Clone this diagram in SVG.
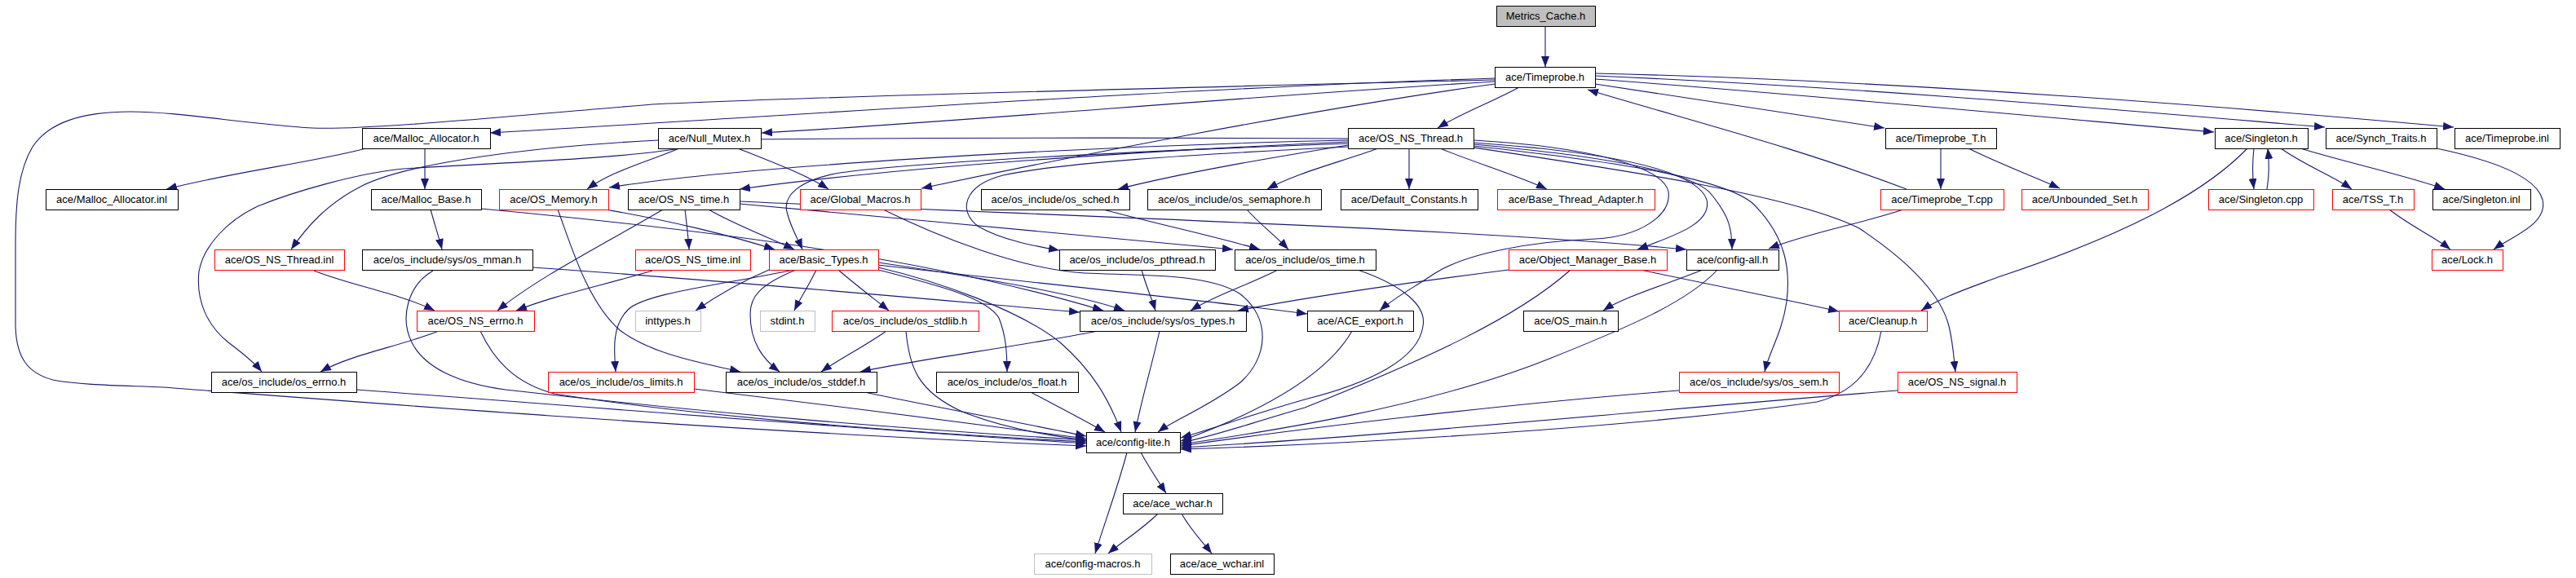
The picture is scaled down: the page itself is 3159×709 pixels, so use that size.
<svg xmlns="http://www.w3.org/2000/svg" width="3159" height="709" viewBox="0 0 3159 709">
<style>
.n rect{fill:#fff;stroke:#000;stroke-width:1}
.n.r rect{stroke:#f00}
.n.g rect{stroke:#bfbfbf}
.n.s rect{fill:#bfbfbf}
text{font-family:"Liberation Sans",Arial,sans-serif;font-size:13px;text-anchor:middle;fill:#000}
#edges path{fill:none;stroke:#191970;stroke-width:1.1;marker-end:url(#a)}
</style>
<defs>
<marker id="a" viewBox="0 0 13 10" markerWidth="13" markerHeight="10" refX="13" refY="5" orient="auto" markerUnits="userSpaceOnUse"><path d="M0,0L13,5L0,10z" fill="#191970"/></marker>
</defs>
<rect width="3159" height="709" fill="#fff"/>
<g id="edges">
<path d="M1895,32 L1895,82"/>
<path d="M1833,96 C1450,108 1000,140 601,163"/>
<path d="M1833,100 C1500,120 1200,148 934,163"/>
<path d="M1833,98 C1500,106 1000,118 800,128 C650,140 450,160 383,157 C300,152 220,137 160,137 C100,137 60,150 40,180 C22,210 19,250 19,300 L19,400 C20,440 35,458 65,466 C100,473 160,473 200,475 C400,490 900,530 1332,547"/>
<path d="M1863,107 C1830,125 1790,140 1763,157"/>
<path d="M1956,103 C2100,125 2220,143 2311,157"/>
<path d="M1956,97 C2200,115 2500,143 2715,162"/>
<path d="M1956,93 C2300,108 2600,135 2851,156"/>
<path d="M1956,90 C2300,98 2700,128 3009,156"/>
<path d="M1833,103 C1600,135 1300,195 1130,231"/>
<path d="M2380,182 L2380,232"/>
<path d="M2414,182 C2450,200 2490,215 2526,231"/>
<path d="M2338,232 C2200,180 2080,150 1947,110"/>
<path d="M2334,257 C2280,275 2220,285 2169,305"/>
<path d="M2764,182 C2762,200 2762,215 2764,232"/>
<path d="M2780,232 C2783,215 2783,200 2781,182"/>
<path d="M2797,182 C2830,205 2860,215 2884,232"/>
<path d="M2821,182 C2880,200 2950,215 2998,232"/>
<path d="M2756,182 C2700,240 2600,290 2450,340 C2410,355 2380,365 2356,381"/>
<path d="M2988,182 C3050,195 3110,215 3118,245 C3125,275 3080,290 3058,306"/>
<path d="M2930,257 C2960,280 2985,290 3005,306"/>
<path d="M449,182 C380,200 290,210 204,232"/>
<path d="M521,182 L521,232"/>
<path d="M528,257 C533,275 538,290 542,306"/>
<path d="M590,256 C900,285 1150,320 1353,381"/>
<path d="M742,257 C820,270 900,290 950,306"/>
<path d="M653,328 C900,345 1150,368 1324,383"/>
<path d="M531,332 C500,350 490,390 505,420 C520,450 560,470 620,478 C900,510 1100,525 1332,540"/>
<path d="M833,182 C790,200 750,210 720,232"/>
<path d="M905,182 C950,200 990,215 1016,232"/>
<path d="M833,182 C760,195 600,200 495,207 C440,212 360,235 316,253 C280,270 250,300 244,333 C240,370 255,400 280,420 C300,435 312,445 321,456"/>
<path d="M1653,170 C1300,168 1000,170 807,172 C650,180 500,200 444,228 C400,250 375,280 357,306"/>
<path d="M1653,172 C1300,180 900,205 747,230"/>
<path d="M1653,174 C1400,185 1100,205 907,232"/>
<path d="M1653,176 C1400,185 1100,200 1024,213 C980,222 960,240 965,260 C970,280 978,292 984,306"/>
<path d="M1653,178 C1550,195 1450,212 1371,232"/>
<path d="M1690,182 C1640,200 1590,212 1554,232"/>
<path d="M1728,182 L1728,232"/>
<path d="M1766,182 C1810,200 1860,215 1897,232"/>
<path d="M1653,180 C1450,190 1300,200 1230,215 C1180,228 1175,260 1200,278 C1230,295 1270,302 1299,307"/>
<path d="M1807,175 C1950,185 2080,205 2093,245 C2100,275 2050,290 2008,306"/>
<path d="M1807,172 C1950,180 2040,205 2046,235 C2050,265 2010,290 1957,293 C1880,296 1800,310 1760,335 C1730,355 1710,365 1692,381"/>
<path d="M1807,177 C1950,190 2080,210 2100,240 C2120,265 2124,280 2124,306"/>
<path d="M1807,179 C1950,195 2110,215 2150,250 C2190,290 2196,330 2191,370 C2185,410 2170,430 2164,456"/>
<path d="M1807,181 C2000,210 2200,240 2280,280 C2340,320 2380,360 2390,400 C2395,420 2396,440 2398,456"/>
<path d="M840,257 C842,275 844,290 845,306"/>
<path d="M869,257 C900,275 940,290 974,306"/>
<path d="M813,257 C740,300 660,340 610,381"/>
<path d="M907,250 C1100,268 1350,290 1512,306"/>
<path d="M907,247 C1300,265 1800,280 2068,306"/>
<path d="M800,332 C740,350 680,362 633,381"/>
<path d="M385,332 C430,350 490,360 533,381"/>
<path d="M538,406 C490,425 430,435 393,456"/>
<path d="M589,406 C605,440 630,470 680,483 C850,510 1100,530 1332,542"/>
<path d="M437,478 C800,505 1100,530 1332,544"/>
<path d="M943,331 C910,345 880,362 853,381"/>
<path d="M1001,331 C992,350 982,365 974,381"/>
<path d="M1028,331 C1050,350 1070,365 1090,381"/>
<path d="M974,331 C880,350 790,360 770,380 C750,400 753,430 755,456"/>
<path d="M976,331 C930,350 920,365 920,385 C920,420 935,440 956,456"/>
<path d="M1077,331 C1150,350 1210,365 1225,390 C1233,410 1235,430 1235,456"/>
<path d="M1077,322 C1200,340 1320,360 1379,381"/>
<path d="M1077,325 C1250,345 1450,365 1603,385"/>
<path d="M1077,328 C1150,345 1250,380 1300,420 C1340,455 1360,490 1375,530"/>
<path d="M684,257 C700,300 720,370 760,405 C800,435 860,445 908,456"/>
<path d="M1087,406 C1060,425 1030,440 1007,456"/>
<path d="M1111,406 C1115,450 1125,480 1180,505 C1230,525 1290,535 1332,540"/>
<path d="M1346,406 C1250,425 1130,440 1055,456"/>
<path d="M1422,406 C1412,450 1400,490 1392,530"/>
<path d="M1060,481 C1150,500 1250,518 1332,535"/>
<path d="M851,477 C1000,495 1200,520 1332,538"/>
<path d="M1264,481 C1290,495 1320,510 1355,530"/>
<path d="M1567,331 C1530,350 1490,362 1460,381"/>
<path d="M1400,331 C1405,350 1412,365 1417,381"/>
<path d="M1353,257 C1420,275 1490,290 1545,306"/>
<path d="M1529,257 C1545,275 1565,290 1580,306"/>
<path d="M1665,331 C1720,350 1750,375 1745,400 C1740,440 1680,470 1600,490 C1530,510 1490,525 1448,537"/>
<path d="M1658,406 C1630,455 1560,500 1448,541"/>
<path d="M1850,331 C1700,350 1600,365 1518,381"/>
<path d="M1926,331 C1860,390 1750,440 1600,500 C1530,520 1490,535 1448,543"/>
<path d="M2012,331 C2100,350 2180,365 2255,382"/>
<path d="M2088,331 C2040,350 1990,365 1966,381"/>
<path d="M2106,331 C2070,370 2000,400 1900,440 C1750,500 1550,530 1448,545"/>
<path d="M2059,479 C1850,495 1600,525 1448,547"/>
<path d="M2327,479 C2000,505 1700,535 1448,549"/>
<path d="M2307,406 C2300,445 2280,480 2228,493 C2000,525 1650,545 1448,551"/>
<path d="M1083,257 C1150,290 1250,330 1330,335 C1400,338 1480,335 1520,360 C1560,390 1555,440 1520,470 C1480,500 1440,515 1420,530"/>
<path d="M1399,555 C1410,575 1420,590 1430,605"/>
<path d="M1382,555 C1370,600 1355,640 1343,679"/>
<path d="M1420,630 C1400,650 1375,665 1359,679"/>
<path d="M1449,630 C1460,650 1475,665 1486,679"/>
</g>
<g id="n0" class="n s"><rect x="1835.5" y="7.5" width="121" height="25"/><text x="1895.5" y="24">Metrics_Cache.h</text></g>
<g id="n1" class="n"><rect x="1833.5" y="82.5" width="123" height="25"/><text x="1894.5" y="99">ace/Timeprobe.h</text></g>
<g id="n2" class="n"><rect x="444.5" y="157.5" width="157" height="25"/><text x="522.5" y="174">ace/Malloc_Allocator.h</text></g>
<g id="n3" class="n"><rect x="807.5" y="157.5" width="126" height="25"/><text x="870" y="174">ace/Null_Mutex.h</text></g>
<g id="n4" class="n"><rect x="1653.5" y="157.5" width="154" height="25"/><text x="1730" y="174">ace/OS_NS_Thread.h</text></g>
<g id="n5" class="n"><rect x="2312.5" y="157.5" width="136" height="25"/><text x="2380" y="174">ace/Timeprobe_T.h</text></g>
<g id="n6" class="n"><rect x="2716.5" y="157.5" width="114" height="25"/><text x="2773" y="174">ace/Singleton.h</text></g>
<g id="n7" class="n"><rect x="2852.5" y="157.5" width="136" height="25"/><text x="2920" y="174">ace/Synch_Traits.h</text></g>
<g id="n8" class="n"><rect x="3010.5" y="157.5" width="129" height="25"/><text x="3074.5" y="174">ace/Timeprobe.inl</text></g>
<g id="n9" class="n"><rect x="56.5" y="232.5" width="162" height="25"/><text x="137" y="249">ace/Malloc_Allocator.inl</text></g>
<g id="n10" class="n"><rect x="455.5" y="232.5" width="135" height="25"/><text x="522.5" y="249">ace/Malloc_Base.h</text></g>
<g id="n11" class="n r"><rect x="612.5" y="232.5" width="134" height="25"/><text x="679" y="249">ace/OS_Memory.h</text></g>
<g id="n12" class="n"><rect x="770.5" y="232.5" width="137" height="25"/><text x="838.5" y="249">ace/OS_NS_time.h</text></g>
<g id="n13" class="n r"><rect x="981.5" y="232.5" width="148" height="25"/><text x="1055" y="249">ace/Global_Macros.h</text></g>
<g id="n14" class="n"><rect x="1203.5" y="232.5" width="182" height="25"/><text x="1294" y="249">ace/os_include/os_sched.h</text></g>
<g id="n15" class="n"><rect x="1407.5" y="232.5" width="213" height="25"/><text x="1513.5" y="249">ace/os_include/os_semaphore.h</text></g>
<g id="n16" class="n"><rect x="1644.5" y="232.5" width="168" height="25"/><text x="1728" y="249">ace/Default_Constants.h</text></g>
<g id="n17" class="n r"><rect x="1836.5" y="232.5" width="193" height="25"/><text x="1932.5" y="249">ace/Base_Thread_Adapter.h</text></g>
<g id="n18" class="n r"><rect x="2306.5" y="232.5" width="151" height="25"/><text x="2381.5" y="249">ace/Timeprobe_T.cpp</text></g>
<g id="n19" class="n r"><rect x="2479.5" y="232.5" width="155" height="25"/><text x="2556.5" y="249">ace/Unbounded_Set.h</text></g>
<g id="n20" class="n r"><rect x="2708.5" y="232.5" width="129" height="25"/><text x="2772.5" y="249">ace/Singleton.cpp</text></g>
<g id="n21" class="n r"><rect x="2860.5" y="232.5" width="100" height="25"/><text x="2910" y="249">ace/TSS_T.h</text></g>
<g id="n22" class="n"><rect x="2983.5" y="232.5" width="120" height="25"/><text x="3043" y="249">ace/Singleton.inl</text></g>
<g id="n23" class="n r"><rect x="263.5" y="306.5" width="159" height="25"/><text x="342.5" y="323">ace/OS_NS_Thread.inl</text></g>
<g id="n24" class="n"><rect x="444.5" y="306.5" width="209" height="25"/><text x="548.5" y="323">ace/os_include/sys/os_mman.h</text></g>
<g id="n25" class="n r"><rect x="779.5" y="306.5" width="141" height="25"/><text x="849.5" y="323">ace/OS_NS_time.inl</text></g>
<g id="n26" class="n r"><rect x="943.5" y="306.5" width="134" height="25"/><text x="1010" y="323">ace/Basic_Types.h</text></g>
<g id="n27" class="n"><rect x="1299.5" y="306.5" width="191" height="25"/><text x="1394.5" y="323">ace/os_include/os_pthread.h</text></g>
<g id="n28" class="n"><rect x="1514.5" y="306.5" width="173" height="25"/><text x="1600.5" y="323">ace/os_include/os_time.h</text></g>
<g id="n29" class="n r"><rect x="1850.5" y="306.5" width="194" height="25"/><text x="1947" y="323">ace/Object_Manager_Base.h</text></g>
<g id="n30" class="n"><rect x="2068.5" y="306.5" width="113" height="25"/><text x="2124.5" y="323">ace/config-all.h</text></g>
<g id="n31" class="n r"><rect x="2982.5" y="306.5" width="87" height="25"/><text x="3025.5" y="323">ace/Lock.h</text></g>
<g id="n32" class="n r"><rect x="511.5" y="381.5" width="144" height="25"/><text x="583" y="398">ace/OS_NS_errno.h</text></g>
<g id="n33" class="n g"><rect x="779.5" y="381.5" width="80" height="25"/><text x="819" y="398">inttypes.h</text></g>
<g id="n34" class="n g"><rect x="932.5" y="381.5" width="67" height="25"/><text x="965.5" y="398">stdint.h</text></g>
<g id="n35" class="n r"><rect x="1020.5" y="381.5" width="180" height="25"/><text x="1110" y="398">ace/os_include/os_stdlib.h</text></g>
<g id="n36" class="n"><rect x="1324.5" y="381.5" width="204" height="25"/><text x="1426" y="398">ace/os_include/sys/os_types.h</text></g>
<g id="n37" class="n"><rect x="1603.5" y="381.5" width="130" height="25"/><text x="1668" y="398">ace/ACE_export.h</text></g>
<g id="n38" class="n"><rect x="1868.5" y="381.5" width="116" height="25"/><text x="1926" y="398">ace/OS_main.h</text></g>
<g id="n39" class="n r"><rect x="2255.5" y="381.5" width="108" height="25"/><text x="2309" y="398">ace/Cleanup.h</text></g>
<g id="n40" class="n"><rect x="259.5" y="456.5" width="178" height="25"/><text x="348" y="473">ace/os_include/os_errno.h</text></g>
<g id="n41" class="n r"><rect x="672.5" y="456.5" width="179" height="25"/><text x="761.5" y="473">ace/os_include/os_limits.h</text></g>
<g id="n42" class="n"><rect x="890.5" y="456.5" width="185" height="25"/><text x="982.5" y="473">ace/os_include/os_stddef.h</text></g>
<g id="n43" class="n"><rect x="1148.5" y="456.5" width="174" height="25"/><text x="1235" y="473">ace/os_include/os_float.h</text></g>
<g id="n44" class="n r"><rect x="2059.5" y="456.5" width="196" height="25"/><text x="2157" y="473">ace/os_include/sys/os_sem.h</text></g>
<g id="n45" class="n r"><rect x="2327.5" y="456.5" width="146" height="25"/><text x="2400" y="473">ace/OS_NS_signal.h</text></g>
<g id="n46" class="n"><rect x="1332.5" y="530.5" width="115" height="25"/><text x="1389.5" y="547">ace/config-lite.h</text></g>
<g id="n47" class="n"><rect x="1377.5" y="605.5" width="122" height="25"/><text x="1438" y="622">ace/ace_wchar.h</text></g>
<g id="n48" class="n g"><rect x="1268.5" y="679.5" width="144" height="25"/><text x="1340" y="696">ace/config-macros.h</text></g>
<g id="n49" class="n"><rect x="1435.5" y="679.5" width="127" height="25"/><text x="1498.5" y="696">ace/ace_wchar.inl</text></g>
</svg>
